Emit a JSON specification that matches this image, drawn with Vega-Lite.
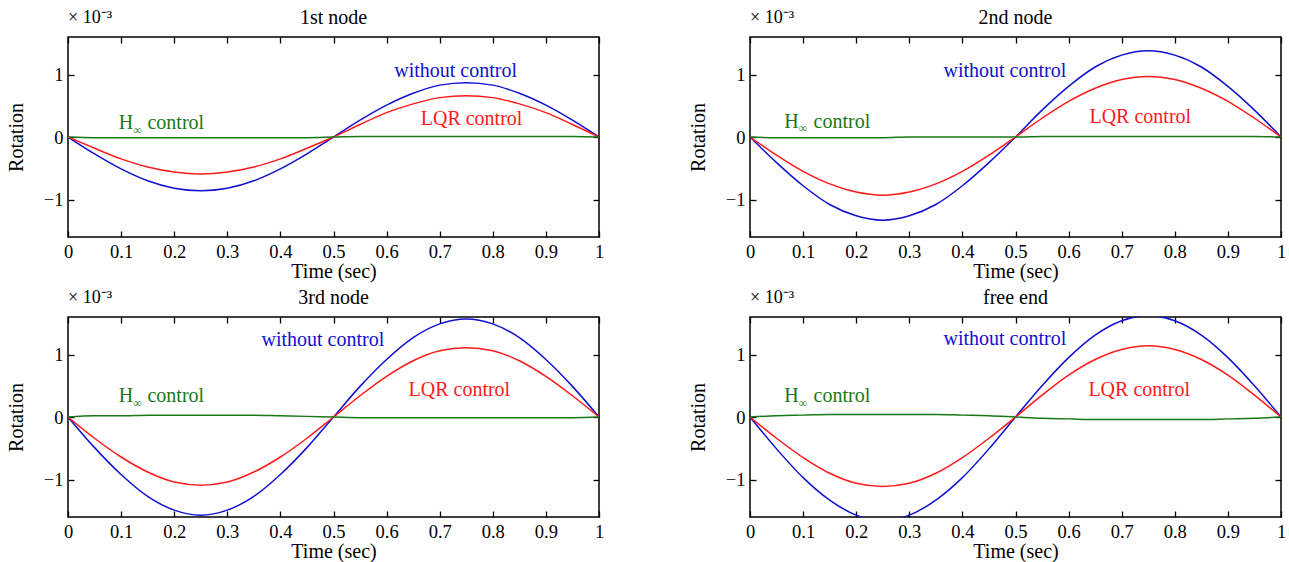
{
  "$schema": "https://vega.github.io/schema/vega-lite/v6.json",
  "padding": {"left": 5, "top": 7, "right": 5, "bottom": 0},
  "background": "white",
  "config": {
    "font": "Liberation Serif",
    "view": {"stroke": "black", "strokeWidth": 1.5},
    "axis": {
      "grid": false,
      "domain": false,
      "labelFlush": false,
      "labelOverlap": false,
      "tickColor": "black",
      "tickWidth": 1.3,
      "tickSize": -6,
      "labelFont": "Liberation Serif",
      "labelFontSize": 18.5,
      "labelColor": "black",
      "titleFont": "Liberation Serif",
      "titleFontSize": 20,
      "titleFontWeight": "normal",
      "titleColor": "black"
    },
    "text": {"font": "Liberation Serif"}
  },
  "data": {"values": [
    {"p":1,"t":0,"w":0,"l":0,"h":0},
    {"p":1,"t":0.05,"w":-0.27,"l":-0.18,"h":-0.01},
    {"p":1,"t":0.1,"w":-0.51,"l":-0.35,"h":-0.01},
    {"p":1,"t":0.15,"w":-0.70,"l":-0.48,"h":-0.01},
    {"p":1,"t":0.2,"w":-0.82,"l":-0.56,"h":-0.01},
    {"p":1,"t":0.25,"w":-0.86,"l":-0.59,"h":-0.01},
    {"p":1,"t":0.3,"w":-0.82,"l":-0.56,"h":-0.01},
    {"p":1,"t":0.35,"w":-0.70,"l":-0.48,"h":-0.01},
    {"p":1,"t":0.4,"w":-0.51,"l":-0.35,"h":-0.01},
    {"p":1,"t":0.45,"w":-0.27,"l":-0.18,"h":-0.01},
    {"p":1,"t":0.5,"w":0,"l":0,"h":0},
    {"p":1,"t":0.55,"w":0.27,"l":0.20,"h":0.01},
    {"p":1,"t":0.6,"w":0.51,"l":0.39,"h":0.01},
    {"p":1,"t":0.65,"w":0.70,"l":0.53,"h":0.01},
    {"p":1,"t":0.7,"w":0.83,"l":0.63,"h":0.01},
    {"p":1,"t":0.75,"w":0.87,"l":0.66,"h":0.01},
    {"p":1,"t":0.8,"w":0.83,"l":0.63,"h":0.01},
    {"p":1,"t":0.85,"w":0.70,"l":0.53,"h":0.01},
    {"p":1,"t":0.9,"w":0.51,"l":0.39,"h":0.01},
    {"p":1,"t":0.95,"w":0.27,"l":0.20,"h":0.01},
    {"p":1,"t":1,"w":0,"l":0,"h":0},

    {"p":2,"t":0,"w":0,"l":0,"h":0},
    {"p":2,"t":0.05,"w":-0.41,"l":-0.29,"h":-0.01},
    {"p":2,"t":0.1,"w":-0.78,"l":-0.55,"h":-0.01},
    {"p":2,"t":0.15,"w":-1.08,"l":-0.75,"h":-0.01},
    {"p":2,"t":0.2,"w":-1.26,"l":-0.88,"h":-0.01},
    {"p":2,"t":0.25,"w":-1.33,"l":-0.93,"h":-0.01},
    {"p":2,"t":0.3,"w":-1.26,"l":-0.88,"h":0},
    {"p":2,"t":0.35,"w":-1.08,"l":-0.75,"h":0},
    {"p":2,"t":0.4,"w":-0.78,"l":-0.55,"h":0},
    {"p":2,"t":0.45,"w":-0.41,"l":-0.29,"h":0},
    {"p":2,"t":0.5,"w":0,"l":0,"h":0},
    {"p":2,"t":0.55,"w":0.43,"l":0.30,"h":0.01},
    {"p":2,"t":0.6,"w":0.81,"l":0.57,"h":0.01},
    {"p":2,"t":0.65,"w":1.12,"l":0.78,"h":0.01},
    {"p":2,"t":0.7,"w":1.31,"l":0.92,"h":0.01},
    {"p":2,"t":0.75,"w":1.38,"l":0.97,"h":0.01},
    {"p":2,"t":0.8,"w":1.31,"l":0.92,"h":0.01},
    {"p":2,"t":0.85,"w":1.12,"l":0.78,"h":0.01},
    {"p":2,"t":0.9,"w":0.81,"l":0.57,"h":0.01},
    {"p":2,"t":0.95,"w":0.43,"l":0.30,"h":0.01},
    {"p":2,"t":1,"w":0,"l":0,"h":0},

    {"p":3,"t":0,"w":0,"l":0,"h":0},
    {"p":3,"t":0.05,"w":-0.49,"l":-0.34,"h":0.02},
    {"p":3,"t":0.1,"w":-0.92,"l":-0.64,"h":0.02},
    {"p":3,"t":0.15,"w":-1.27,"l":-0.88,"h":0.03},
    {"p":3,"t":0.2,"w":-1.49,"l":-1.04,"h":0.03},
    {"p":3,"t":0.25,"w":-1.57,"l":-1.09,"h":0.03},
    {"p":3,"t":0.3,"w":-1.49,"l":-1.04,"h":0.03},
    {"p":3,"t":0.35,"w":-1.27,"l":-0.88,"h":0.03},
    {"p":3,"t":0.4,"w":-0.92,"l":-0.64,"h":0.02},
    {"p":3,"t":0.45,"w":-0.49,"l":-0.34,"h":0.01},
    {"p":3,"t":0.5,"w":0,"l":0,"h":0},
    {"p":3,"t":0.55,"w":0.49,"l":0.34,"h":-0.01},
    {"p":3,"t":0.6,"w":0.92,"l":0.65,"h":-0.01},
    {"p":3,"t":0.65,"w":1.27,"l":0.90,"h":-0.01},
    {"p":3,"t":0.7,"w":1.49,"l":1.06,"h":-0.01},
    {"p":3,"t":0.75,"w":1.57,"l":1.11,"h":-0.01},
    {"p":3,"t":0.8,"w":1.49,"l":1.06,"h":-0.01},
    {"p":3,"t":0.85,"w":1.27,"l":0.90,"h":-0.01},
    {"p":3,"t":0.9,"w":0.92,"l":0.65,"h":-0.01},
    {"p":3,"t":0.95,"w":0.49,"l":0.34,"h":-0.01},
    {"p":3,"t":1,"w":0,"l":0,"h":0},

    {"p":4,"t":0,"w":0,"l":0,"h":0},
    {"p":4,"t":0.05,"w":-0.51,"l":-0.34,"h":0.02},
    {"p":4,"t":0.1,"w":-0.97,"l":-0.65,"h":0.03},
    {"p":4,"t":0.15,"w":-1.33,"l":-0.90,"h":0.04},
    {"p":4,"t":0.2,"w":-1.57,"l":-1.06,"h":0.04},
    {"p":4,"t":0.25,"w":-1.65,"l":-1.11,"h":0.04},
    {"p":4,"t":0.3,"w":-1.57,"l":-1.06,"h":0.04},
    {"p":4,"t":0.35,"w":-1.33,"l":-0.90,"h":0.04},
    {"p":4,"t":0.4,"w":-0.97,"l":-0.65,"h":0.03},
    {"p":4,"t":0.45,"w":-0.51,"l":-0.34,"h":0.02},
    {"p":4,"t":0.5,"w":0,"l":0,"h":0},
    {"p":4,"t":0.55,"w":0.50,"l":0.35,"h":-0.02},
    {"p":4,"t":0.6,"w":0.95,"l":0.67,"h":-0.03},
    {"p":4,"t":0.65,"w":1.31,"l":0.92,"h":-0.04},
    {"p":4,"t":0.7,"w":1.54,"l":1.08,"h":-0.04},
    {"p":4,"t":0.75,"w":1.62,"l":1.14,"h":-0.04},
    {"p":4,"t":0.8,"w":1.54,"l":1.08,"h":-0.04},
    {"p":4,"t":0.85,"w":1.31,"l":0.92,"h":-0.04},
    {"p":4,"t":0.9,"w":0.95,"l":0.67,"h":-0.03},
    {"p":4,"t":0.95,"w":0.50,"l":0.35,"h":-0.02},
    {"p":4,"t":1,"w":0,"l":0,"h":0},

    {"p":1,"s":"w","t":0.73,"v":1.06,"txt":"without control"},
    {"p":1,"s":"l","t":0.76,"v":0.29,"txt":"LQR control"},
    {"p":1,"s":"h","t":0.109,"v":0.225,"txt":"H"},
    {"p":1,"s":"hs","t":0.131,"v":0.12,"txt":"∞"},
    {"p":1,"s":"h","t":0.203,"v":0.225,"txt":"control"},
    {"p":1,"s":"k","t":0.5,"v":1.9,"txt":"1st node"},
    {"p":1,"s":"n","t":0,"v":1.9,"txt":"× 10⁻³"},
    {"p":2,"s":"w","t":0.48,"v":1.06,"txt":"without control"},
    {"p":2,"s":"l","t":0.735,"v":0.32,"txt":"LQR control"},
    {"p":2,"s":"h","t":0.078,"v":0.24,"txt":"H"},
    {"p":2,"s":"hs","t":0.1,"v":0.14,"txt":"∞"},
    {"p":2,"s":"h","t":0.173,"v":0.24,"txt":"control"},
    {"p":2,"s":"k","t":0.5,"v":1.9,"txt":"2nd node"},
    {"p":2,"s":"n","t":0,"v":1.9,"txt":"× 10⁻³"},
    {"p":3,"s":"w","t":0.48,"v":1.23,"txt":"without control"},
    {"p":3,"s":"l","t":0.737,"v":0.44,"txt":"LQR control"},
    {"p":3,"s":"h","t":0.109,"v":0.33,"txt":"H"},
    {"p":3,"s":"hs","t":0.131,"v":0.23,"txt":"∞"},
    {"p":3,"s":"h","t":0.203,"v":0.33,"txt":"control"},
    {"p":3,"s":"k","t":0.5,"v":1.9,"txt":"3rd node"},
    {"p":3,"s":"n","t":0,"v":1.9,"txt":"× 10⁻³"},
    {"p":4,"s":"w","t":0.48,"v":1.25,"txt":"without control"},
    {"p":4,"s":"l","t":0.733,"v":0.43,"txt":"LQR control"},
    {"p":4,"s":"h","t":0.078,"v":0.33,"txt":"H"},
    {"p":4,"s":"hs","t":0.1,"v":0.23,"txt":"∞"},
    {"p":4,"s":"h","t":0.173,"v":0.33,"txt":"control"},
    {"p":4,"s":"k","t":0.5,"v":1.9,"txt":"free end"},
    {"p":4,"s":"n","t":0,"v":1.9,"txt":"× 10⁻³"}
  ]},
  "columns": 2,
  "spacing": {"column": 82, "row": 4},
  "concat": [
    {"width": 531, "height": 200, "transform": [{"filter": "datum.p == 1"}],
     "layer": [
      {"transform": [{"filter": "datum.txt == null"}, {"fold": ["w", "l", "h"], "as": ["s", "v"]}],
       "mark": {"type": "line", "strokeWidth": 1.5, "interpolate": "monotone", "clip": true},
       "encoding": {
         "x": {"field": "t", "type": "quantitative", "scale": {"domain": [0, 1], "nice": false}, "axis": {"orient": "bottom", "values": [0,0.1,0.2,0.3,0.4,0.5,0.6,0.7,0.8,0.9,1], "format": "~g", "title": "Time (sec)", "labelPadding": 11, "titlePadding": 1}},
         "y": {"field": "v", "type": "quantitative", "scale": {"domain": [-1.6, 1.6], "nice": false}, "axis": {"orient": "left", "values": [-1, 0, 1], "format": "~g", "title": "Rotation", "labelPadding": 11, "titlePadding": 17}},
         "color": {"field": "s", "type": "nominal", "legend": null, "scale": {"domain": ["w", "l", "h", "k"], "range": ["#1010d0", "#ff1a1a", "#187818", "#000000"]}}}},
      {"transform": [{"filter": "datum.txt != null && datum.s != 'n' && datum.s != 'hs'"}],
       "mark": {"type": "text", "fontSize": 20, "baseline": "middle", "align": "center", "clip": false},
       "encoding": {
         "x": {"field": "t", "type": "quantitative", "scale": {"domain": [0, 1], "nice": false}, "axis": {"orient": "top", "values": [0,0.1,0.2,0.3,0.4,0.5,0.6,0.7,0.8,0.9,1], "labels": false, "title": null}},
         "y": {"field": "v", "type": "quantitative", "scale": {"domain": [-1.6, 1.6], "nice": false}, "axis": {"orient": "right", "values": [-1, 0, 1], "labels": false, "title": null}},
         "text": {"field": "txt", "type": "nominal"},
         "color": {"field": "s", "type": "nominal", "legend": null, "scale": {"domain": ["w", "l", "h", "k"], "range": ["#1010d0", "#ff1a1a", "#187818", "#000000"]}}}},
      {"transform": [{"filter": "datum.s == 'hs'"}],
       "mark": {"type": "text", "fontSize": 12, "baseline": "middle", "align": "center", "clip": false, "color": "#187818"},
       "encoding": {"x": {"field": "t", "type": "quantitative", "axis": null}, "y": {"field": "v", "type": "quantitative", "axis": null}, "text": {"field": "txt", "type": "nominal"}}},
      {"transform": [{"filter": "datum.s == 'n'"}],
       "mark": {"type": "text", "fontSize": 18, "baseline": "middle", "align": "left", "clip": false, "color": "black"},
       "encoding": {"x": {"field": "t", "type": "quantitative", "axis": null}, "y": {"field": "v", "type": "quantitative", "axis": null}, "text": {"field": "txt", "type": "nominal"}}}
     ],
     "resolve": {"axis": {"x": "independent", "y": "independent"}}},
    {"width": 531, "height": 200, "transform": [{"filter": "datum.p == 2"}],
     "layer": [
      {"transform": [{"filter": "datum.txt == null"}, {"fold": ["w", "l", "h"], "as": ["s", "v"]}],
       "mark": {"type": "line", "strokeWidth": 1.5, "interpolate": "monotone", "clip": true},
       "encoding": {
         "x": {"field": "t", "type": "quantitative", "scale": {"domain": [0, 1], "nice": false}, "axis": {"orient": "bottom", "values": [0,0.1,0.2,0.3,0.4,0.5,0.6,0.7,0.8,0.9,1], "format": "~g", "title": "Time (sec)", "labelPadding": 11, "titlePadding": 1}},
         "y": {"field": "v", "type": "quantitative", "scale": {"domain": [-1.6, 1.6], "nice": false}, "axis": {"orient": "left", "values": [-1, 0, 1], "format": "~g", "title": "Rotation", "labelPadding": 11, "titlePadding": 17}},
         "color": {"field": "s", "type": "nominal", "legend": null, "scale": {"domain": ["w", "l", "h", "k"], "range": ["#1010d0", "#ff1a1a", "#187818", "#000000"]}}}},
      {"transform": [{"filter": "datum.txt != null && datum.s != 'n' && datum.s != 'hs'"}],
       "mark": {"type": "text", "fontSize": 20, "baseline": "middle", "align": "center", "clip": false},
       "encoding": {
         "x": {"field": "t", "type": "quantitative", "scale": {"domain": [0, 1], "nice": false}, "axis": {"orient": "top", "values": [0,0.1,0.2,0.3,0.4,0.5,0.6,0.7,0.8,0.9,1], "labels": false, "title": null}},
         "y": {"field": "v", "type": "quantitative", "scale": {"domain": [-1.6, 1.6], "nice": false}, "axis": {"orient": "right", "values": [-1, 0, 1], "labels": false, "title": null}},
         "text": {"field": "txt", "type": "nominal"},
         "color": {"field": "s", "type": "nominal", "legend": null, "scale": {"domain": ["w", "l", "h", "k"], "range": ["#1010d0", "#ff1a1a", "#187818", "#000000"]}}}},
      {"transform": [{"filter": "datum.s == 'hs'"}],
       "mark": {"type": "text", "fontSize": 12, "baseline": "middle", "align": "center", "clip": false, "color": "#187818"},
       "encoding": {"x": {"field": "t", "type": "quantitative", "axis": null}, "y": {"field": "v", "type": "quantitative", "axis": null}, "text": {"field": "txt", "type": "nominal"}}},
      {"transform": [{"filter": "datum.s == 'n'"}],
       "mark": {"type": "text", "fontSize": 18, "baseline": "middle", "align": "left", "clip": false, "color": "black"},
       "encoding": {"x": {"field": "t", "type": "quantitative", "axis": null}, "y": {"field": "v", "type": "quantitative", "axis": null}, "text": {"field": "txt", "type": "nominal"}}}
     ],
     "resolve": {"axis": {"x": "independent", "y": "independent"}}},
    {"width": 531, "height": 200, "transform": [{"filter": "datum.p == 3"}],
     "layer": [
      {"transform": [{"filter": "datum.txt == null"}, {"fold": ["w", "l", "h"], "as": ["s", "v"]}],
       "mark": {"type": "line", "strokeWidth": 1.5, "interpolate": "monotone", "clip": true},
       "encoding": {
         "x": {"field": "t", "type": "quantitative", "scale": {"domain": [0, 1], "nice": false}, "axis": {"orient": "bottom", "values": [0,0.1,0.2,0.3,0.4,0.5,0.6,0.7,0.8,0.9,1], "format": "~g", "title": "Time (sec)", "labelPadding": 11, "titlePadding": 1}},
         "y": {"field": "v", "type": "quantitative", "scale": {"domain": [-1.6, 1.6], "nice": false}, "axis": {"orient": "left", "values": [-1, 0, 1], "format": "~g", "title": "Rotation", "labelPadding": 11, "titlePadding": 17}},
         "color": {"field": "s", "type": "nominal", "legend": null, "scale": {"domain": ["w", "l", "h", "k"], "range": ["#1010d0", "#ff1a1a", "#187818", "#000000"]}}}},
      {"transform": [{"filter": "datum.txt != null && datum.s != 'n' && datum.s != 'hs'"}],
       "mark": {"type": "text", "fontSize": 20, "baseline": "middle", "align": "center", "clip": false},
       "encoding": {
         "x": {"field": "t", "type": "quantitative", "scale": {"domain": [0, 1], "nice": false}, "axis": {"orient": "top", "values": [0,0.1,0.2,0.3,0.4,0.5,0.6,0.7,0.8,0.9,1], "labels": false, "title": null}},
         "y": {"field": "v", "type": "quantitative", "scale": {"domain": [-1.6, 1.6], "nice": false}, "axis": {"orient": "right", "values": [-1, 0, 1], "labels": false, "title": null}},
         "text": {"field": "txt", "type": "nominal"},
         "color": {"field": "s", "type": "nominal", "legend": null, "scale": {"domain": ["w", "l", "h", "k"], "range": ["#1010d0", "#ff1a1a", "#187818", "#000000"]}}}},
      {"transform": [{"filter": "datum.s == 'hs'"}],
       "mark": {"type": "text", "fontSize": 12, "baseline": "middle", "align": "center", "clip": false, "color": "#187818"},
       "encoding": {"x": {"field": "t", "type": "quantitative", "axis": null}, "y": {"field": "v", "type": "quantitative", "axis": null}, "text": {"field": "txt", "type": "nominal"}}},
      {"transform": [{"filter": "datum.s == 'n'"}],
       "mark": {"type": "text", "fontSize": 18, "baseline": "middle", "align": "left", "clip": false, "color": "black"},
       "encoding": {"x": {"field": "t", "type": "quantitative", "axis": null}, "y": {"field": "v", "type": "quantitative", "axis": null}, "text": {"field": "txt", "type": "nominal"}}}
     ],
     "resolve": {"axis": {"x": "independent", "y": "independent"}}},
    {"width": 531, "height": 200, "transform": [{"filter": "datum.p == 4"}],
     "layer": [
      {"transform": [{"filter": "datum.txt == null"}, {"fold": ["w", "l", "h"], "as": ["s", "v"]}],
       "mark": {"type": "line", "strokeWidth": 1.5, "interpolate": "monotone", "clip": true},
       "encoding": {
         "x": {"field": "t", "type": "quantitative", "scale": {"domain": [0, 1], "nice": false}, "axis": {"orient": "bottom", "values": [0,0.1,0.2,0.3,0.4,0.5,0.6,0.7,0.8,0.9,1], "format": "~g", "title": "Time (sec)", "labelPadding": 11, "titlePadding": 1}},
         "y": {"field": "v", "type": "quantitative", "scale": {"domain": [-1.6, 1.6], "nice": false}, "axis": {"orient": "left", "values": [-1, 0, 1], "format": "~g", "title": "Rotation", "labelPadding": 11, "titlePadding": 17}},
         "color": {"field": "s", "type": "nominal", "legend": null, "scale": {"domain": ["w", "l", "h", "k"], "range": ["#1010d0", "#ff1a1a", "#187818", "#000000"]}}}},
      {"transform": [{"filter": "datum.txt != null && datum.s != 'n' && datum.s != 'hs'"}],
       "mark": {"type": "text", "fontSize": 20, "baseline": "middle", "align": "center", "clip": false},
       "encoding": {
         "x": {"field": "t", "type": "quantitative", "scale": {"domain": [0, 1], "nice": false}, "axis": {"orient": "top", "values": [0,0.1,0.2,0.3,0.4,0.5,0.6,0.7,0.8,0.9,1], "labels": false, "title": null}},
         "y": {"field": "v", "type": "quantitative", "scale": {"domain": [-1.6, 1.6], "nice": false}, "axis": {"orient": "right", "values": [-1, 0, 1], "labels": false, "title": null}},
         "text": {"field": "txt", "type": "nominal"},
         "color": {"field": "s", "type": "nominal", "legend": null, "scale": {"domain": ["w", "l", "h", "k"], "range": ["#1010d0", "#ff1a1a", "#187818", "#000000"]}}}},
      {"transform": [{"filter": "datum.s == 'hs'"}],
       "mark": {"type": "text", "fontSize": 12, "baseline": "middle", "align": "center", "clip": false, "color": "#187818"},
       "encoding": {"x": {"field": "t", "type": "quantitative", "axis": null}, "y": {"field": "v", "type": "quantitative", "axis": null}, "text": {"field": "txt", "type": "nominal"}}},
      {"transform": [{"filter": "datum.s == 'n'"}],
       "mark": {"type": "text", "fontSize": 18, "baseline": "middle", "align": "left", "clip": false, "color": "black"},
       "encoding": {"x": {"field": "t", "type": "quantitative", "axis": null}, "y": {"field": "v", "type": "quantitative", "axis": null}, "text": {"field": "txt", "type": "nominal"}}}
     ],
     "resolve": {"axis": {"x": "independent", "y": "independent"}}}
  ]
}
